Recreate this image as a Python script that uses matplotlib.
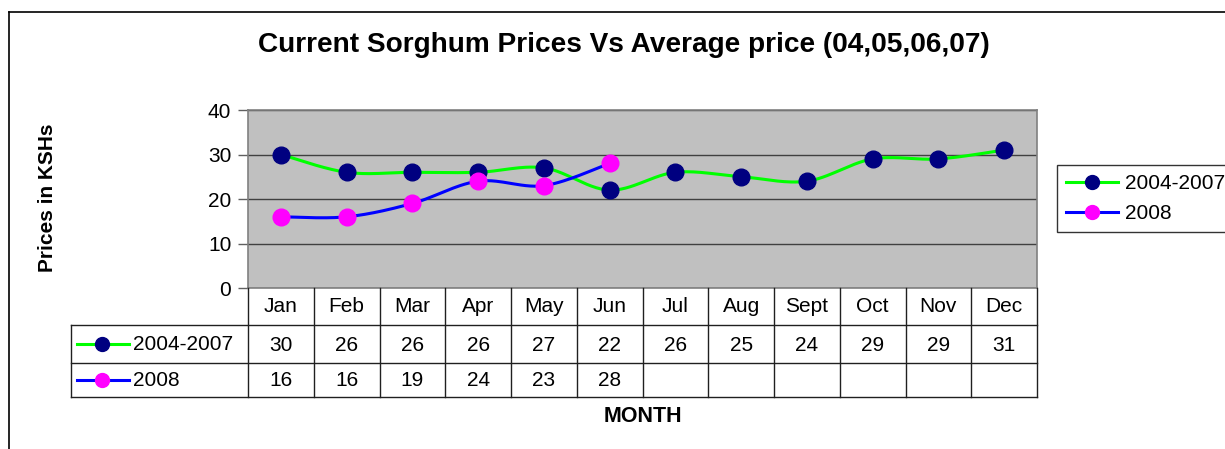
import numpy as np
import matplotlib
matplotlib.use("Agg")
import matplotlib.pyplot as plt
from matplotlib.lines import Line2D
from matplotlib.transforms import blended_transform_factory

plt.rcParams['font.family'] = ['Liberation Sans', 'DejaVu Sans']

months = ['Jan', 'Feb', 'Mar', 'Apr', 'May', 'Jun', 'Jul', 'Aug', 'Sept', 'Oct', 'Nov', 'Dec']
avg_0407 = [30, 26, 26, 26, 27, 22, 26, 25, 24, 29, 29, 31]
price_2008 = [16, 16, 19, 24, 23, 28]
series_names = ['2004-2007', '2008']
yticks = [0, 10, 20, 30, 40]

W, H = 1225, 449
GREEN = '#00FF00'
NAVY = '#000080'
BLUE = '#0000FF'
MAGENTA = '#FF00FF'
FS = 15


def smooth(vals, n=30):
    """Catmull-Rom smoothing (like Excel smoothed lines)."""
    x = np.arange(len(vals)) + 0.5
    p = np.column_stack([x, np.asarray(vals, float)])
    xs, ys = [], []
    for i in range(len(p) - 1):
        p0 = p[i - 1] if i > 0 else p[i]
        p1, p2 = p[i], p[i + 1]
        p3 = p[i + 2] if i + 2 < len(p) else p[i + 1]
        c1 = p1 + (p2 - p0) / 6.0
        c2 = p2 - (p3 - p1) / 6.0
        t = np.linspace(0, 1, n)[:, None]
        seg = ((1 - t) ** 3) * p1 + 3 * ((1 - t) ** 2) * t * c1 + 3 * (1 - t) * t ** 2 * c2 + t ** 3 * p2
        xs.append(seg[:, 0]); ys.append(seg[:, 1])
    return np.concatenate(xs), np.concatenate(ys)


fig = plt.figure(figsize=(W / 100, H / 100), dpi=100)

# outer chart frame
fig.add_artist(Line2D([9 / W, 9 / W], [0, 1 - 12 / H], color='black', lw=1.2, transform=fig.transFigure))
fig.add_artist(Line2D([9 / W, 1], [1 - 12 / H, 1 - 12 / H], color='black', lw=1.2, transform=fig.transFigure))

ax = fig.add_axes([248 / W, 1 - 288 / H, (1037 - 248) / W, 178 / H])
ax.set_facecolor('#C0C0C0')
ax.set_xlim(0, 12)
ax.set_ylim(0, 40)
ax.set_yticks(yticks)
ax.set_yticklabels([str(v) for v in yticks], fontsize=FS)
ax.set_xticks([])
ax.tick_params(axis='y', direction='out', length=7, width=1, color='#606060', pad=5)
ax.grid(axis='y', color='#404040', lw=1)
ax.set_axisbelow(True)
for s in ax.spines.values():
    s.set_color('#808080')
    s.set_linewidth(1.2)

x_all = np.arange(len(avg_0407)) + 0.5
x_08 = np.arange(len(price_2008)) + 0.5
sx, sy = smooth(avg_0407)
ax.plot(sx, sy, color=GREEN, lw=2.2, zorder=3)
ax.plot(x_all, avg_0407, 'o', color=NAVY, ms=12, zorder=4)
sx, sy = smooth(price_2008)
ax.plot(sx, sy, color=BLUE, lw=2.2, zorder=3)
ax.plot(x_08, price_2008, 'o', color=MAGENTA, ms=12, zorder=4)

fig.text(47.5 / W, 1 - 198 / H, 'Prices in KSHs', rotation=90, ha='center', va='center',
         fontsize=15, fontweight='bold')

fig.text(624 / W, 1 - 45 / H, 'Current Sorghum Prices Vs Average price (04,05,06,07)',
         ha='center', va='center', fontsize=20.2, fontweight='bold')

# data table
tr = blended_transform_factory(ax.transData, fig.transFigure)
y0, y1, y2, y3 = 1 - 288 / H, 1 - 325 / H, 1 - 363 / H, 1 - 397 / H
lc = '#202020'
for i in range(len(months) + 1):
    fig.add_artist(Line2D([i, i], [y0, y3], color=lc, lw=1, transform=tr))
for yy in (y1, y2, y3):
    fig.add_artist(Line2D([71 / W, 1037 / W], [yy, yy], color=lc, lw=1, transform=fig.transFigure))
fig.add_artist(Line2D([71 / W, 71 / W], [y1, y3], color=lc, lw=1, transform=fig.transFigure))

for i, m in enumerate(months):
    fig.text(i + 0.5, (y0 + y1) / 2, m, ha='center', va='center', fontsize=FS, transform=tr)
for i, v in enumerate(avg_0407):
    fig.text(i + 0.5, (y1 + y2) / 2 - 1.5 / H, str(v), ha='center', va='center', fontsize=FS, transform=tr)
for i, v in enumerate(price_2008):
    fig.text(i + 0.5, (y2 + y3) / 2, str(v), ha='center', va='center', fontsize=FS, transform=tr)

for (yc, lcol, mcol, name) in [((y1 + y2) / 2, GREEN, NAVY, series_names[0]),
                               ((y2 + y3) / 2, BLUE, MAGENTA, series_names[1])]:
    fig.add_artist(Line2D([77 / W, 129 / W], [yc, yc], color=lcol, lw=2.2, transform=fig.transFigure))
    fig.add_artist(Line2D([102 / W], [yc], marker='o', color=mcol, ms=10, transform=fig.transFigure))
    fig.text(133 / W, yc, name, ha='left', va='center', fontsize=FS)

fig.text(643 / W, 1 - 417 / H, 'MONTH', ha='center', va='center', fontsize=15.5, fontweight='bold')

# legend
handles = [Line2D([], [], color=GREEN, lw=2.2, marker='o', mfc=NAVY, mec=NAVY, ms=10),
           Line2D([], [], color=BLUE, lw=2.2, marker='o', mfc=MAGENTA, mec=MAGENTA, ms=10)]
leg = fig.legend(handles, series_names, loc='upper left', bbox_to_anchor=(1057 / W, 1 - 165 / H),
                 fontsize=FS, frameon=True, fancybox=False, handlelength=2.5, handletextpad=0.3,
                 borderpad=0.45, labelspacing=0.5, borderaxespad=0)
leg.get_frame().set_edgecolor('black')
leg.get_frame().set_linewidth(1)

fig.savefig('out.png', dpi=100)
